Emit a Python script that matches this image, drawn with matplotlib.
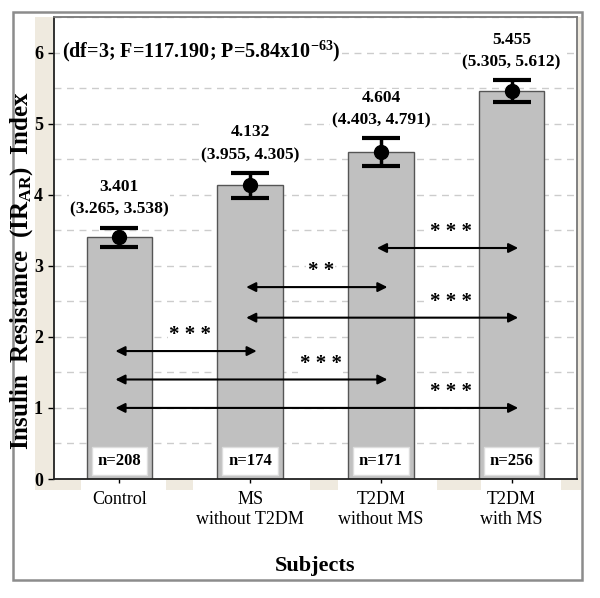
import matplotlib
matplotlib.use("Agg")
import matplotlib.pyplot as plt
from matplotlib.patches import Rectangle
from matplotlib.ticker import MultipleLocator

# data
groups = ["Control", "MS\nwithout T2DM", "T2DM\nwithout MS", "T2DM\nwith MS"]
means = [3.401, 4.132, 4.604, 5.455]
ci_low = [3.265, 3.955, 4.403, 5.305]
ci_high = [3.538, 4.305, 4.791, 5.612]
n_sizes = [208, 174, 171, 256]

# pairwise comparisons (group a, group b, significance, arrow level)
comp_a = [0, 0, 0, 1, 1, 2]
comp_b = [1, 2, 3, 2, 3, 3]
comp_sig = ["* * *", "* * *", "* * *", "* *", "* * *", "* * *"]
comp_level = [1.8, 1.4, 1.0, 2.7, 2.27, 3.25]

stats_text = "(df=3; F=117.190; P=5.84x10$^{-63}$)"

plt.rcParams["font.family"] = ["Liberation Serif", "DejaVu Serif"]
plt.rcParams["mathtext.fontset"] = "custom"
plt.rcParams["mathtext.rm"] = "Liberation Serif:bold"
plt.rcParams["mathtext.bf"] = "Liberation Serif:bold"
plt.rcParams["mathtext.it"] = "Liberation Serif:bold"
plt.rcParams["mathtext.default"] = "bf"

W, H = 600, 598
fig = plt.figure(figsize=(W / 100, H / 100), dpi=100)
beige = "#efeadf"

def px_rect(x0, y0, x1, y1, **kw):
    # rectangle in pixel coords (top-left origin) drawn on the figure
    fig.patches.append(Rectangle((x0 / W, 1 - y1 / H), (x1 - x0) / W, (y1 - y0) / H,
                                 transform=fig.transFigure, **kw))

# outer frame and beige bands
px_rect(13, 12, 582, 580, facecolor="white", edgecolor="#8c8c8c", lw=1.8, zorder=0)
px_rect(35, 17, 54, 490, facecolor=beige, edgecolor="none", zorder=0.5)
px_rect(35, 479, 580, 490, facecolor=beige, edgecolor="none", zorder=0.5)
px_rect(577, 17, 581, 490, facecolor=beige, edgecolor="none", zorder=0.5)
for x0, x1 in [(81, 166), (193, 310), (338, 437), (481, 561)]:
    px_rect(x0, 480, x1, 491, facecolor="white", edgecolor="none", zorder=0.6)

ax = fig.add_axes([54 / W, 1 - 479 / H, (577 - 54) / W, (479 - 17) / H])
ax.set_zorder(1)

x = list(range(len(groups)))
ax.bar(x, means, width=0.5, color="#c0c0c0", edgecolor="#555555", linewidth=1.0, zorder=2)

err_lo = [m - l for m, l in zip(means, ci_low)]
err_hi = [h - m for m, h in zip(means, ci_high)]
ax.errorbar(x, means, yerr=[err_lo, err_hi], fmt="o", color="black", markersize=10,
            elinewidth=2.5, capsize=14, capthick=3, zorder=4)

for i in x:
    ax.text(i, ci_high[i] + 0.14, f"{means[i]:.3f}\n({ci_low[i]:.3f}, {ci_high[i]:.3f})",
            ha="center", va="bottom", fontsize=12.5, fontweight="bold", linespacing=1.55,
            zorder=5, bbox=dict(facecolor="white", edgecolor="none", pad=1))
    ax.text(i, 0.25, f"n={n_sizes[i]}", ha="center", va="center", fontsize=12,
            fontweight="bold", zorder=5,
            bbox=dict(facecolor="white", edgecolor="#dddddd", boxstyle="square,pad=0.35"))

for a, b, sig, lev in zip(comp_a, comp_b, comp_sig, comp_level):
    ax.annotate("", xy=(b + 0.05, lev), xytext=(a - 0.03, lev),
                arrowprops=dict(arrowstyle="<|-|>", color="black", lw=1.5,
                                mutation_scale=14, shrinkA=0, shrinkB=0), zorder=5)
    ax.text(b - 0.46, lev + 0.22, sig, ha="center", va="center", fontsize=15,
            fontweight="bold", zorder=5,
            bbox=dict(facecolor="white", edgecolor="none", pad=1))

ax.text(0.015, 0.925, stats_text, transform=ax.transAxes, ha="left", va="center",
        fontsize=14.5, fontweight="bold", zorder=5,
        bbox=dict(facecolor="white", edgecolor="none", pad=1))

ax.set_xlim(-0.5, 3.5)
ax.set_ylim(0, 6.5)
ax.set_xticks(x)
ax.set_xticklabels(groups, fontsize=13)
ax.set_yticks(range(7))
ax.set_yticklabels([str(v) for v in range(7)], fontsize=13, fontweight="bold")
ax.yaxis.set_minor_locator(MultipleLocator(0.5))
ax.tick_params(axis="y", which="major", length=4, width=1, pad=4)
ax.tick_params(axis="y", which="minor", length=0)
ax.tick_params(axis="x", length=3, width=1, pad=6)
ax.grid(axis="y", which="both", linestyle=(0, (5, 4)), color="#cccccc", lw=1, zorder=0)
ax.set_axisbelow(True)

for s in ["left", "bottom"]:
    ax.spines[s].set_color("#222222")
    ax.spines[s].set_linewidth(1.3)
for s in ["top", "right"]:
    ax.spines[s].set_color("#777777")
    ax.spines[s].set_linewidth(1.3)

ax.set_ylabel("Insulin  Resistance  (IR$_{AR}$)  Index", fontsize=18, fontweight="bold")
ax.yaxis.set_label_coords(-0.036, 0.45)
ax.set_xlabel("Subjects", fontsize=16, fontweight="bold", labelpad=20)

plt.savefig("out.png", dpi=100)
